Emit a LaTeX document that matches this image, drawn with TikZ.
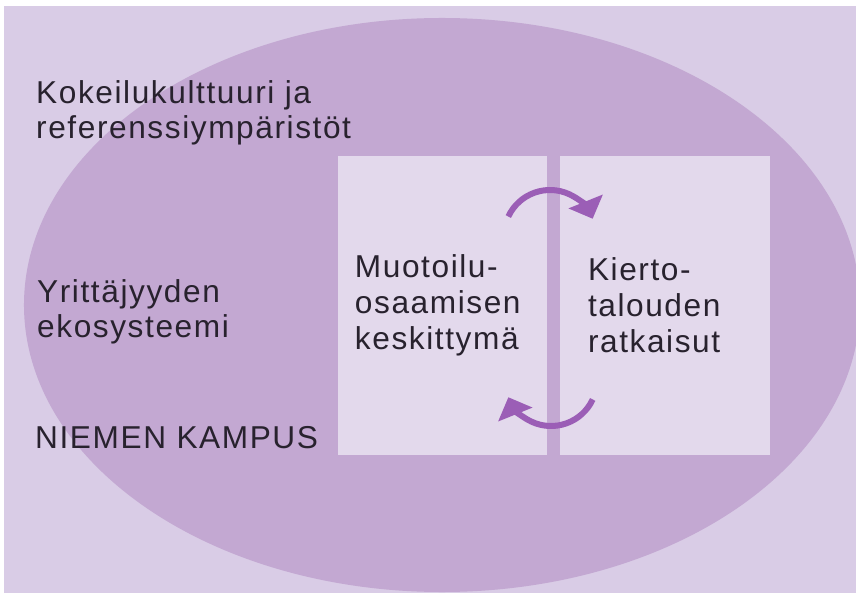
\documentclass[tikz,border=0pt]{standalone}
\usepackage{fontspec}
\setmainfont[LetterSpace=5]{Liberation Sans}
\usetikzlibrary{positioning,arrows.meta}
\definecolor{bgpurple}{RGB}{217,204,230}
\definecolor{ovalpurple}{RGB}{195,168,210}
\definecolor{panelpurple}{RGB}{227,217,236}
\definecolor{arrowpurple}{RGB}{155,94,182}
\definecolor{textdark}{RGB}{40,34,46}
\tikzset{
  lbl/.style={font=\fontsize{27}{30.7}\selectfont, text=textdark, align=left, inner sep=0pt},
  panel/.style={fill=panelpurple, draw=none, minimum width=6.27cm, minimum height=8.97cm, inner sep=0pt},
  cyc/.style={draw=arrowpurple, line width=0.18cm, -{Triangle[length=0.56cm,width=1.08cm]}}
}

\begin{document}
\begin{tikzpicture}[x=0.03cm, y=-0.03cm]
  \useasboundingbox (0,0) rectangle (856,593);
  \fill[white] (0,0) rectangle (856,593);
  \fill[bgpurple] (4,6) rectangle (856,593);
  \fill[ovalpurple] (442,305) ellipse [x radius=12.54cm, y radius=8.61cm];
  % the two blocks
  \node[panel] (muot) at (442.5,305.5) {};
  \node[panel, minimum width=6.3cm] (kier) at (665,305.5) {};
  \node[lbl, right=0.51cm of muot.west] (muottxt) {Muotoilu-\\osaamisen\\keskittymä};
  \node[lbl, right=0.84cm of kier.west] (kiertxt) {Kierto-\\talouden\\ratkaisut};
  % labels on the left (base = last line)
  \node[lbl, anchor=base west] (koke) at (36,139) {Kokeilukulttuuri ja\\referenssiympäristöt};
  \node[lbl, anchor=base west] (yrit) at (37,338) {Yrittäjyyden\\ekosysteemi};
  \node[lbl, anchor=base west] (kamp) at (35,448) {NIEMEN KAMPUS};
  % cycle arrows
  \coordinate (ylakaari) at (550,236);
  \coordinate (alakaari) at (551,380);
  \draw[cyc] ([shift={(155:1.38cm)}]ylakaari) arc[start angle=155, end angle=22, radius=1.38cm];
  \draw[cyc] ([shift={(-25:1.38cm)}]alakaari) arc[start angle=-25, end angle=-158, radius=1.38cm];
\end{tikzpicture}
\end{document}
